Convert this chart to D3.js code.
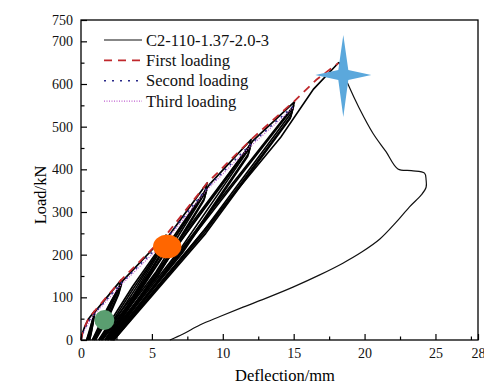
<!DOCTYPE html>
<html>
<head>
<meta charset="utf-8">
<script src="https://cdn.jsdelivr.net/npm/d3@7"></script>
<style>
  body { margin: 0; background: #fff; }
  svg { display: block; font-family: "Liberation Serif", "Times New Roman", serif; }
  svg text { font-family: "Liberation Serif", "Times New Roman", serif !important; }
</style>
</head>
<body>
<svg width="484" height="385"></svg>
<script>
// axis ticks
var xTicks = [0, 5, 10, 15, 20, 25, 28];
var xMinor = [2.5, 7.5, 12.5, 17.5, 22.5, 27.5];
var yTicks = [0, 100, 200, 300, 400, 500, 600, 700, 750];
var yMinor = [50, 150, 250, 350, 450, 550, 650];

// envelopes
var firstLoading = [[0, 0], [0.1, 16], [0.26, 31], [0.5, 48], [0.96, 68], [2.84, 141], [6.0, 246], [8.9, 368], [12.0, 470], [15.05, 560], [16.6, 610], [18.15, 649]];
var secondLoading = [[0, 0], [0.2, 22], [0.5, 42], [0.95, 63], [2.85, 134], [6.0, 237], [8.9, 357], [12.0, 460], [15.0, 549]];
var thirdLoading = [[0, 0], [0.2, 20], [0.5, 39], [0.94, 60], [2.85, 130], [5.95, 231], [8.85, 351], [11.95, 454], [14.95, 544]];

// load-deflection cycles (three per level)
var cycles = [
  [[0, 0], [0.1, 16], [0.26, 31], [0.5, 48], [0.96, 68], [0.8, 45], [0.6, 18], [0.4, 0]],
  [[0.4, 0], [0.7, 34], [0.95, 63], [0.82, 40], [0.66, 17], [0.5, 0]],
  [[0.5, 0], [0.75, 33], [0.94, 60], [0.84, 38], [0.72, 16], [0.6, 0]],
  [[0.6, 0], [0.85, 40], [0.98, 66], [2.84, 141], [2.6, 115], [1.8, 55], [0.8, 0]],
  [[0.8, 0], [1.85, 74], [2.85, 134], [2.65, 110], [1.9, 55], [0.92, 0]],
  [[0.92, 0], [1.9, 70], [2.85, 130], [2.65, 107], [1.95, 53], [1.02, 0]],
  [[1.02, 0], [2.0, 82], [2.95, 139], [6.0, 246], [5.8, 220], [3.7, 105], [1.25, 0]],
  [[1.25, 0], [3.65, 126], [6.0, 237], [5.8, 213], [3.75, 100], [1.38, 0]],
  [[1.38, 0], [3.7, 121], [5.95, 231], [5.75, 207], [3.8, 97], [1.5, 0]],
  [[1.5, 0], [3.8, 118], [6.1, 240], [8.9, 368], [8.7, 342], [5.3, 160], [1.68, 0]],
  [[1.68, 0], [5.35, 185], [8.9, 357], [8.7, 332], [5.4, 155], [1.8, 0]],
  [[1.8, 0], [5.4, 180], [8.85, 351], [8.65, 326], [5.45, 152], [1.9, 0]],
  [[1.9, 0], [5.5, 182], [9.05, 364], [12.0, 470], [11.8, 445], [7.0, 213], [2.02, 0]],
  [[2.02, 0], [7.05, 240], [12.0, 460], [11.8, 436], [7.1, 207], [2.1, 0]],
  [[2.1, 0], [7.1, 235], [11.95, 454], [11.75, 430], [7.15, 204], [2.16, 0]],
  [[2.16, 0], [7.2, 240], [12.1, 466], [15.05, 558], [14.85, 533], [8.7, 258], [2.22, 0]],
  [[2.22, 0], [8.7, 283], [15.0, 549], [14.8, 524], [8.75, 254], [2.27, 0]],
  [[2.27, 0], [8.75, 279], [14.95, 544], [14.75, 519], [8.8, 250], [2.32, 0]]
];
var finalLoading = [[2.32, 0], [8.5, 250], [14.1, 476], [16.4, 588], [18.2, 651]];
var postPeak = [[18.2, 651], [18.85, 598], [19.6, 545], [20.6, 484], [21.5, 442], [22.35, 401], [23.3, 397], [24.23, 391], [24.34, 375], [24.34, 358], [24.0, 340], [23.17, 312], [22.2, 275], [21.06, 236], [19.8, 206], [18.47, 180], [16.8, 152], [14.95, 124], [13.2, 100], [11.43, 77], [9.8, 55], [8.38, 35], [7.2, 14], [6.27, 0]];

// highlight marks (data coords)
var starAt = [18.5, 621];
var orangeAt = [6.08, 219];
var greenAt = [1.65, 47];

var legendNames = ["C2-110-1.37-2.0-3", "First loading", "Second loading", "Third loading"];

var svg = d3.select("svg");
var plotLeft = 81, plotRight = 478, plotTop = 20, plotBottom = 340;

var x = d3.scaleLinear().domain([0, 28]).range([plotLeft, plotRight]);
var y = d3.scaleLinear().domain([0, 750]).range([plotBottom, plotTop]);

var line = d3.line()
    .x(function (d) { return x(d[0]); })
    .y(function (d) { return y(d[1]); });
var smooth = d3.line()
    .curve(d3.curveCatmullRom.alpha(0.5))
    .x(function (d) { return x(d[0]); })
    .y(function (d) { return y(d[1]); });

// main hysteresis curve
var g = svg.append("g");
g.selectAll(".cycle")
    .data(cycles)
    .enter().append("path")
    .attr("class", "cycle")
    .attr("d", line)
    .attr("fill", "none")
    .attr("stroke", "#000")
    .attr("stroke-width", 1.7)
    .attr("stroke-linejoin", "round");
g.append("path")
    .attr("d", line(finalLoading))
    .attr("fill", "none")
    .attr("stroke", "#000")
    .attr("stroke-width", 1.6);
g.append("path")
    .attr("d", smooth(postPeak))
    .attr("fill", "none")
    .attr("stroke", "#111")
    .attr("stroke-width", 1.2)
    .attr("stroke-linejoin", "round");

// envelopes
g.append("path").attr("d", line(thirdLoading))
    .attr("fill", "none").attr("stroke", "#c060d0").attr("stroke-width", 1.3)
    .attr("stroke-dasharray", "1,1.5");
g.append("path").attr("d", line(secondLoading))
    .attr("fill", "none").attr("stroke", "#2a2a8a").attr("stroke-width", 1.5)
    .attr("stroke-dasharray", "2,5");
g.append("path").attr("d", line(firstLoading))
    .attr("fill", "none").attr("stroke", "#c0282c").attr("stroke-width", 1.8)
    .attr("stroke-dasharray", "8,6");

// frame
svg.append("rect")
    .attr("x", plotLeft).attr("y", plotTop)
    .attr("width", plotRight - plotLeft).attr("height", plotBottom - plotTop)
    .attr("fill", "none").attr("stroke", "#000").attr("stroke-width", 1.3);

// axes, ticks inward
svg.append("g").attr("transform", "translate(0," + plotBottom + ")")
    .call(d3.axisBottom(x).tickValues(xTicks).tickSizeInner(-6).tickSizeOuter(0).tickPadding(8)
        .tickFormat(d3.format("d")));
svg.append("g").attr("transform", "translate(0," + plotBottom + ")")
    .call(d3.axisBottom(x).tickValues(xMinor).tickSizeInner(-3.5).tickSizeOuter(0).tickFormat(""));
svg.append("g").attr("transform", "translate(" + plotLeft + ",0)")
    .call(d3.axisLeft(y).tickValues(yTicks).tickSizeInner(-6).tickSizeOuter(0).tickPadding(8)
        .tickFormat(d3.format("d")));
svg.append("g").attr("transform", "translate(" + plotLeft + ",0)")
    .call(d3.axisLeft(y).tickValues(yMinor).tickSizeInner(-3.5).tickSizeOuter(0).tickFormat(""));

svg.selectAll(".domain").remove();
svg.selectAll(".tick line").attr("stroke", "#000").attr("stroke-width", 1.2);
svg.selectAll(".tick text")
    .attr("font-size", 14)
    .attr("fill", "#111");

// axis titles
svg.append("text")
    .attr("x", 285).attr("y", 381)
    .attr("text-anchor", "middle")
    .attr("font-size", 16.5)
    .text("Deflection/mm");
svg.append("text")
    .attr("transform", "translate(46,195) rotate(-90)")
    .attr("text-anchor", "middle")
    .attr("font-size", 16.5)
    .text("Load/kN");

// legend
var legendStyles = [
    { stroke: "#111", width: 1.2, dash: null },
    { stroke: "#c0282c", width: 1.8, dash: "8,6" },
    { stroke: "#2a2a8a", width: 1.5, dash: "2,6" },
    { stroke: "#c060d0", width: 1.3, dash: "1,1.5" }
];
var legend = svg.append("g").attr("transform", "translate(104,40)");
var rows = legend.selectAll("g").data(legendNames).enter().append("g")
    .attr("transform", function (d, i) { return "translate(0," + (i * 20.4) + ")"; });
rows.append("line")
    .attr("x1", 0).attr("x2", 38).attr("y1", 0).attr("y2", 0)
    .attr("stroke", function (d, i) { return legendStyles[i].stroke; })
    .attr("stroke-width", function (d, i) { return legendStyles[i].width; })
    .attr("stroke-dasharray", function (d, i) { return legendStyles[i].dash; });
rows.append("text")
    .attr("x", 42).attr("y", 5.5)
    .attr("font-size", 16.5)
    .attr("fill", "#111")
    .text(function (d) { return d; });

// highlight marks
svg.append("circle")
    .attr("cx", x(greenAt[0])).attr("cy", y(greenAt[1]))
    .attr("r", 10)
    .attr("fill", "#5a9e70");
svg.append("ellipse")
    .attr("cx", x(orangeAt[0])).attr("cy", y(orangeAt[1]))
    .attr("rx", 14.2).attr("ry", 11.8)
    .attr("fill", "#ff6600");
var sx = x(starAt[0]), sy = y(starAt[1]);
var starPts = [[0, -40], [5, -5], [28, 0], [5, 5], [0, 42], [-5, 5], [-28, 0], [-5, -5]];
svg.append("path")
    .attr("d", "M" + starPts.map(function (p) { return (sx + p[0]) + "," + (sy + p[1]); }).join("L") + "Z")
    .attr("fill", "#5ba8dc");
</script>
</body>
</html>
